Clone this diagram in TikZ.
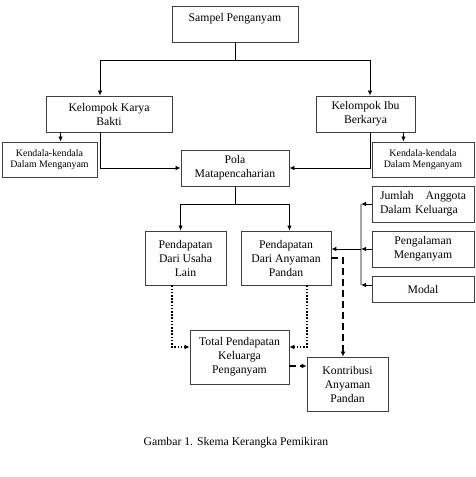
\documentclass[tikz,border=0pt]{standalone}
\usepackage{fontspec}
\setmainfont{Liberation Serif}
\usetikzlibrary{arrows.meta}
\begin{document}
\begin{tikzpicture}[x=1pt,y=-1pt,
  box/.style={draw=black!75,line width=0.9pt,align=center,inner sep=2pt,
    font=\fontsize{11.7pt}{14pt}\selectfont},
  smallbox/.style={box,font=\fontsize{9.9pt}{11.5pt}\selectfont},
  arr/.style={line width=0.8pt,-{Latex[length=5pt,width=4.5pt]}},
  dotarr/.style={line width=1.8pt,dash pattern=on 1.6pt off 1.6pt,-{Latex[length=5pt,width=5pt]}},
  dasharr/.style={line width=2pt,dash pattern=on 7pt off 4pt,-{Latex[length=5pt,width=5pt]}}]
\useasboundingbox (0,0) rectangle (475,477);
\node[box,minimum width=126pt,minimum height=36pt,text depth=13pt] (samp) at (235,24) {Sampel Penganyam};
\node[box,minimum width=126pt,minimum height=36pt] (kb) at (109,114) {Kelompok Karya\\Bakti};
\node[box,minimum width=99pt,minimum height=36pt] (ibu) at (365.5,114) {Kelompok Ibu\\Berkarya};
\node[smallbox,minimum width=95pt,minimum height=35pt] (kl) at (49.5,159.5) {Kendala-kendala\\Dalam Menganyam};
\node[smallbox,minimum width=102pt,minimum height=35pt] (kr) at (423,159.5) {Kendala-kendala\\Dalam Menganyam};
\node[box,minimum width=108pt,minimum height=36pt] (pola) at (235,168) {Pola\\Matapencaharian};
\node[box,minimum width=81pt,minimum height=54pt] (pu) at (185.5,258) {Pendapatan\\Dari Usaha\\Lain};
\node[box,minimum width=90pt,minimum height=54pt] (pa) at (286,258) {Pendapatan\\Dari Anyaman\\Pandan};
\node[box,minimum width=102pt,minimum height=36pt,text width=86pt,align=left] (jml) at (423,204) {Jumlah\hfill Anggota\\Dalam Keluarga};
\node[box,minimum width=102pt,minimum height=36pt] (pgl) at (423,249) {Pengalaman\\Menganyam};
\node[box,minimum width=102pt,minimum height=26pt] (mod) at (423,289) {Modal};
\node[box,minimum width=99pt,minimum height=54pt] (tot) at (239.5,357) {Total Pendapatan\\Keluarga\\Penganyam};
\node[box,minimum width=81pt,minimum height=54pt] (kon) at (347.5,384) {Kontribusi\\Anyaman\\Pandan};
\node[font=\fontsize{11.7pt}{14pt}\selectfont] (cap) at (236,443) {Gambar 1. Skema Kerangka Pemikiran};

\coordinate (v1) at (361,204);
\coordinate (v2) at (361,285);

\draw[arr] (samp.south) -- ++(0,18) -| ([xshift=-9pt]kb.north);
\draw[arr] (samp.south) -- ++(0,18) -| ([xshift=4.5pt]ibu.north);
\draw[arr] ([xshift=15pt]kb.south west) -- ([xshift=15pt]kb.south west |- kl.north);
\draw[arr] ([xshift=-12pt]ibu.south east) -- ([xshift=-12pt]ibu.south east |- kr.north);
\draw[arr] ([xshift=-9pt]kb.south) |- (pola.west);
\draw[arr] ([xshift=4.5pt]ibu.south) |- (pola.east);
\draw[arr] (pola.south) -- ++(0,18) -| (pola.west |- pu.north);
\draw[arr] (pola.south) -- ++(0,18) -| (pola.east |- pa.north);

\draw[gray!70,line width=1.3pt] (v1) -- (v2);
\draw[arr] (jml.west) -- (jml.west -| v1);
\draw[arr] (pgl.west) -- (pgl.west -| v1);
\draw[arr] ([yshift=4pt]mod.west) -- ([yshift=4pt]mod.west -| v1);
\draw[arr] (pgl.west -| v1) -- (pgl.west -| pa.east);

\draw[dotarr] ([xshift=-13.5pt]pu.south) |- ([yshift=10pt]tot.west);
\draw[dotarr] ([xshift=21pt]pa.south) |- ([yshift=10pt]tot.east);
\draw[dasharr] (pa.east) -| ([xshift=-4.5pt]kon.north);
\draw[dasharr] ([yshift=-9pt]tot.east) -- ([yshift=-9pt]tot.east -| kon.west);
\end{tikzpicture}
\end{document}
